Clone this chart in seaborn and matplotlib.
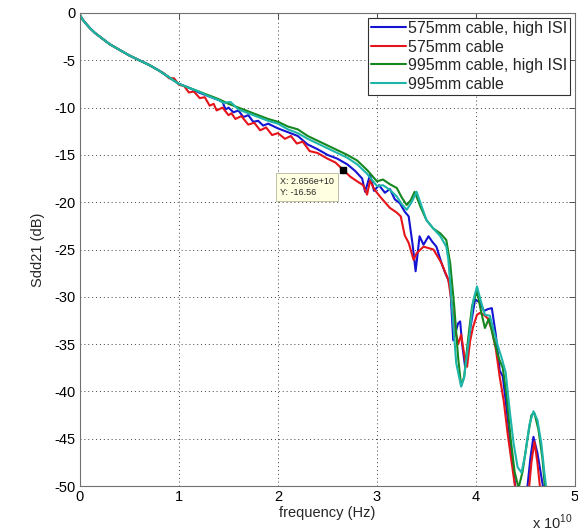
import numpy as np
import pandas as pd
import matplotlib
matplotlib.use("Agg")
import matplotlib.pyplot as plt
import seaborn as sns

# ---- data (frequency in units of 1e10 Hz, Sdd21 in dB) ----
labels = ["575mm cable, high ISI", "575mm cable", "995mm cable, high ISI", "995mm cable"]
colors = ["#1414d2", "#e5141a", "#14871e", "#1db5aa"]

f_blue = [0, .02, .05, .1, .15, .2, .3, .4, .5, .6, .7, .8, .9, 1.0, 1.1, 1.2, 1.3, 1.4,
          1.44, 1.47, 1.5, 1.55, 1.6, 1.65, 1.7, 1.75, 1.8, 1.85, 1.9, 2.0, 2.1, 2.2, 2.3,
          2.4, 2.5, 2.6, 2.7, 2.78, 2.85, 2.88, 2.93, 2.97, 3.02, 3.08, 3.13, 3.18, 3.23,
          3.28, 3.32, 3.36, 3.39, 3.43, 3.47, 3.52, 3.56, 3.6, 3.65, 3.69, 3.72, 3.74, 3.77,
          3.8, 3.82, 3.84, 3.86, 3.89, 3.91, 3.94, 3.99, 4.04, 4.08, 4.12, 4.16, 4.2, 4.24,
          4.27, 4.3, 4.34, 4.37, 4.4, 4.44, 4.5, 4.55, 4.58, 4.62, 4.66, 4.7]
s_blue = [-0.2, -0.6, -1.0, -1.6, -2.1, -2.5, -3.3, -3.9, -4.5, -5.0, -5.5, -6.1, -6.8, -7.5,
          -7.9, -8.4, -8.8, -9.2, -9.4, -10.2, -10.0, -10.5, -10.3, -11.0, -10.8, -11.5,
          -11.4, -11.9, -11.7, -12.2, -12.6, -13.0, -13.9, -14.4, -15.0, -15.4, -16.0,
          -16.7, -17.5, -18.9, -17.1, -18.8, -18.2, -19.0, -18.6, -19.7, -20.1, -21.0,
          -21.5, -24.5, -27.3, -23.6, -24.5, -23.6, -24.2, -24.7, -26.4, -27.5, -28.2,
          -28.9, -34.6, -33.5, -32.8, -32.6, -35.0, -37.4, -36.0, -33.5, -30.3, -30.6,
          -31.5, -31.3, -31.2, -34.0, -37.8, -38.4, -41.0, -44.8, -47.5, -50.3, -52.0,
          -52.0, -47.0, -44.8, -46.5, -49.0, -51.5]

f_red = [0, .02, .05, .1, .15, .2, .3, .4, .5, .6, .7, .8, .85, .9, .95, 1.0, 1.05, 1.1,
         1.15, 1.21, 1.26, 1.31, 1.35, 1.38, 1.44, 1.5, 1.53, 1.57, 1.63, 1.7, 1.76, 1.82,
         1.88, 1.94, 2.0, 2.07, 2.13, 2.19, 2.25, 2.32, 2.4, 2.5, 2.58, 2.65, 2.73, 2.8,
         2.86, 2.9, 2.93, 2.97, 3.03, 3.08, 3.13, 3.2, 3.24, 3.28, 3.32, 3.37, 3.4, 3.47,
         3.57, 3.65, 3.72, 3.76, 3.79, 3.82, 3.85, 3.89, 3.91, 3.94, 3.97, 4.01, 4.04,
         4.08, 4.12, 4.16, 4.2, 4.24, 4.28, 4.32, 4.36, 4.4, 4.45, 4.52, 4.56, 4.59, 4.62,
         4.65, 4.7]
s_red = [-0.2, -0.6, -1.0, -1.6, -2.1, -2.5, -3.3, -3.9, -4.5, -5.0, -5.5, -6.1, -6.4,
         -6.9, -6.9, -7.6, -7.7, -8.4, -8.3, -9.0, -8.9, -9.8, -9.6, -10.3, -10.0, -10.8,
         -10.6, -11.2, -10.9, -11.8, -11.6, -12.4, -12.1, -12.9, -12.7, -13.3, -13.0,
         -13.8, -13.6, -14.6, -14.8, -15.4, -15.8, -16.5, -17.3, -17.8, -18.2, -19.2,
         -17.7, -18.6, -19.4, -20.0, -20.6, -21.1, -21.5, -23.5, -24.3, -26.1, -25.4,
         -24.7, -25.0, -26.4, -28.2, -31.0, -33.5, -35.0, -34.0, -36.7, -37.4, -34.7,
         -33.2, -31.9, -31.7, -31.9, -32.3, -33.5, -35.5, -38.5, -41.0, -44.5, -47.5,
         -50.5, -53.0, -52.0, -47.5, -45.3, -47.5, -50.5, -53.0]

f_green = [0, .02, .05, .1, .15, .2, .3, .4, .5, .6, .7, .8, .9, 1.0, 1.1, 1.2, 1.3, 1.4,
           1.5, 1.6, 1.7, 1.8, 1.9, 2.0, 2.1, 2.2, 2.3, 2.4, 2.5, 2.6, 2.7, 2.8, 2.9, 3.0,
           3.06, 3.13, 3.2, 3.25, 3.3, 3.34, 3.38, 3.44, 3.5, 3.57, 3.64, 3.7, 3.74, 3.78,
           3.82, 3.85, 3.88, 3.92, 3.96, 4.01, 4.05, 4.09, 4.13, 4.18, 4.23, 4.27, 4.31,
           4.35, 4.39, 4.43, 4.47, 4.52, 4.56, 4.59, 4.63, 4.67, 4.7, 4.74]
s_green = [-0.2, -0.6, -1.0, -1.6, -2.1, -2.5, -3.3, -3.9, -4.5, -5.0, -5.5, -6.1, -6.8,
           -7.5, -7.9, -8.3, -8.7, -9.1, -9.6, -10.0, -10.4, -10.8, -11.2, -11.5, -12.0,
           -12.3, -13.0, -13.5, -14.0, -14.5, -15.0, -15.6, -16.6, -17.8, -17.6, -18.1,
           -18.5, -19.5, -20.3, -19.8, -18.9, -20.5, -21.9, -22.8, -23.3, -24.0, -26.5,
           -31.0, -36.5, -39.4, -38.5, -34.5, -31.0, -29.4, -31.5, -33.3, -32.3, -34.5,
           -36.5, -37.5, -40.5, -45.0, -48.5, -50.2, -48.5, -45.0, -42.5, -42.3, -44.0,
           -47.0, -50.5, -53.0]

f_cyan = [0, .02, .05, .1, .15, .2, .3, .4, .5, .6, .7, .8, .9, 1.0, 1.1, 1.2, 1.3, 1.4,
          1.45, 1.52, 1.6, 1.7, 1.8, 1.9, 2.0, 2.1, 2.2, 2.3, 2.4, 2.5, 2.6, 2.7, 2.8, 2.9,
          3.0, 3.06, 3.13, 3.2, 3.25, 3.3, 3.35, 3.4, 3.45, 3.5, 3.57, 3.64, 3.7, 3.72,
          3.75, 3.8, 3.85, 3.88, 3.91, 3.94, 3.97, 4.01, 4.05, 4.09, 4.14, 4.19, 4.23,
          4.26, 4.3, 4.34, 4.38, 4.42, 4.46, 4.5, 4.54, 4.58, 4.62, 4.66, 4.69, 4.73]
s_cyan = [-0.2, -0.6, -1.0, -1.6, -2.1, -2.5, -3.3, -3.9, -4.5, -5.0, -5.5, -6.1, -6.8,
          -7.5, -7.9, -8.3, -8.8, -9.2, -9.5, -9.4, -10.2, -10.6, -11.0, -11.4, -11.7,
          -12.3, -12.7, -13.3, -13.8, -14.3, -14.8, -15.3, -16.0, -17.0, -18.3, -18.2,
          -18.7, -19.4, -20.2, -20.8, -20.0, -18.9, -20.4, -21.9, -22.8, -23.6, -24.7,
          -26.0, -30.0, -37.0, -39.5, -38.5, -36.0, -33.5, -30.5, -28.9, -30.5, -31.9,
          -32.0, -34.0, -35.5, -36.5, -38.0, -42.0, -45.5, -48.0, -48.6, -46.5, -43.5,
          -42.1, -43.0, -45.5, -48.5, -52.0]

tip_f = 2.656
tip_s = -16.56

xticks = [0, 1, 2, 3, 4, 5]
yticks = [0, -5, -10, -15, -20, -25, -30, -35, -40, -45, -50]

# ---- build long table ----
frames = []
for lab, f, s in zip(labels, [f_blue, f_red, f_green, f_cyan],
                     [s_blue, s_red, s_green, s_cyan]):
    frames.append(pd.DataFrame({"freq": np.array(f) * 1e10, "sdd21": s, "series": lab}))
df = pd.concat(frames, ignore_index=True)

sns.set_style("white")
plt.rcParams["font.family"] = ["Liberation Sans", "DejaVu Sans"]
plt.rcParams["mathtext.fontset"] = "custom"
plt.rcParams["mathtext.rm"] = "Liberation Sans"

fig = plt.figure(figsize=(5.78, 5.31), dpi=100)
ax = fig.add_axes([80 / 578, 1 - 486 / 531, 495 / 578, 473 / 531])

sns.lineplot(data=df, x="freq", y="sdd21", hue="series", hue_order=labels,
             palette=colors, sort=False, estimator=None, units="series",
             linewidth=1.5, ax=ax, legend=True)

ax.set_xlim(0, 5e10)
ax.set_ylim(-50, 0)
ax.set_xticks([t * 1e10 for t in xticks])
ax.set_xticklabels([str(t) for t in xticks])
ax.set_yticks(yticks)
ax.set_yticklabels([str(t) for t in yticks])

ax.grid(True, linestyle=(0, (1, 3)), color="#404040", linewidth=0.7)
ax.tick_params(direction="in", length=4, width=0.7, top=True, right=True,
               labelsize=10.5, colors="#505050", labelcolor="black", pad=3)
for sp in ax.spines.values():
    sp.set_color("#707070")
    sp.set_linewidth(0.8)

ax.set_xlabel("frequency (Hz)", fontsize=10.5, labelpad=1)
ax.set_ylabel("Sdd21 (dB)", fontsize=10.5, labelpad=7)
fig.text(573 / 578, 1 - 522 / 531, r"x 10$^{10}$", ha="right", va="center", fontsize=10.5)

leg = ax.legend(loc="upper right", fontsize=11.5, frameon=True, fancybox=False,
                edgecolor="#303030", framealpha=1, borderaxespad=0.3,
                handlelength=2.2, handletextpad=0.1, labelspacing=0.22,
                borderpad=0.2, title=None)
leg.get_frame().set_linewidth(0.8)

# data tip
ax.plot([tip_f * 1e10], [tip_s], marker="s", color="black", markersize=5, zorder=6)
ax.annotate("X: 2.656e+10\nY: -16.56", xy=(tip_f * 1e10, tip_s), xytext=(-9, -7),
            textcoords="offset pixels", ha="right", va="top", multialignment="left",
            fontsize=6.5, linespacing=1.35,
            bbox=dict(boxstyle="square,pad=0.45", fc="#ffffe1", ec="#b5b59a", lw=0.6),
            zorder=7)

fig.savefig("out.png", dpi=100)
